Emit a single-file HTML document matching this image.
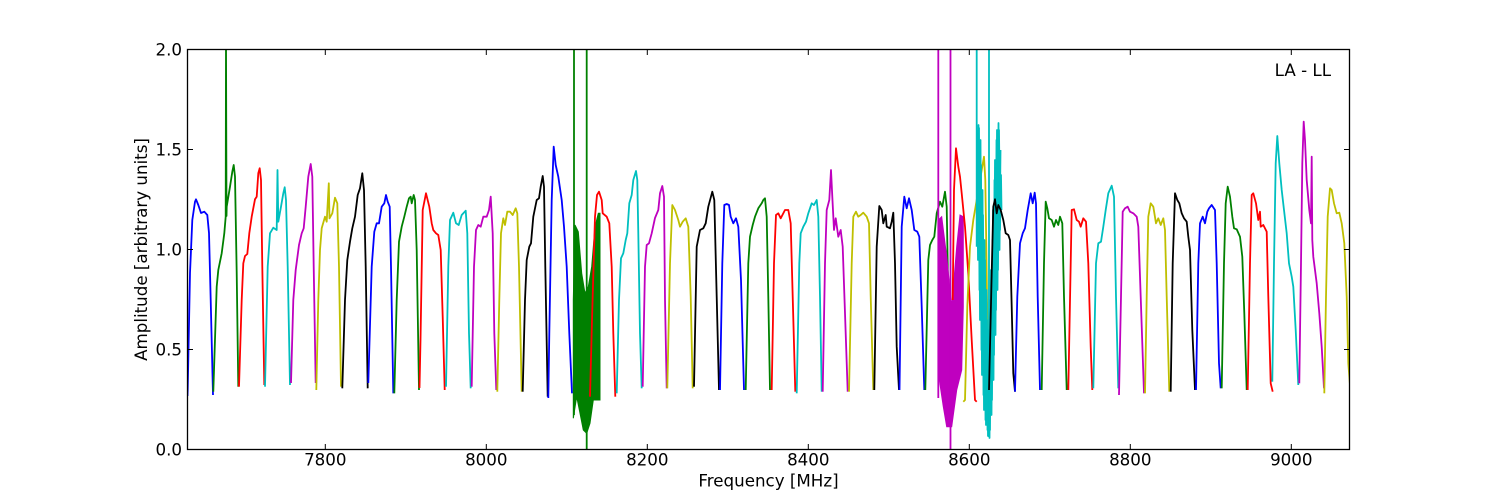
<!DOCTYPE html>
<html><head><meta charset="utf-8"><style>
html,body{margin:0;padding:0;background:#fff;}
svg{display:block;}
text{font-family:"DejaVu Sans","Liberation Sans",sans-serif;font-size:16.7px;fill:#000;}
.l{fill:none;stroke-width:1.8;stroke-linejoin:round;stroke-linecap:butt;}
.b{stroke:#0000ff}.g{stroke:#008000}.r{stroke:#ff0000}.c{stroke:#00bfbf}.m{stroke:#bf00bf}.y{stroke:#bfbf00}.k{stroke:#000000}
</style></head><body>
<svg width="1500" height="500" viewBox="0 0 1500 500" xmlns="http://www.w3.org/2000/svg">
<defs><clipPath id="ax"><rect x="187.5" y="49.5" width="1162" height="400"/></clipPath></defs>
<rect width="1500" height="500" fill="#fff"/>
<g clip-path="url(#ax)">
<polyline class="l b" points="187.5,396 187.7,390 190,273 192.3,220 195,201.7 196,199.3 198.3,205 201,213 204.3,211.7 207.3,215 209,233 210.7,300 213,395"/>
<polyline class="l g" points="213.3,391.7 216.7,286.7 218.3,270 221.7,253.3 224.3,233.3 225.7,216.7 226,40 226.5,216 226.7,206.7 230,186.7 232.3,171.7 233.7,165 235,176.7 236.7,273 238.3,386.7"/>
<polyline class="l r" points="239,386.7 241.7,300 243.3,263.3 245,256 247.3,254 249.3,233.3 251.7,216.7 255,199.3 256.7,196.7 258.3,173.3 259.7,168.3 261,180 262.3,266.7 264.3,385"/>
<polyline class="l c" points="265,386.7 267.7,266.7 270,233.3 273.3,227.7 276.7,230 277.5,170 278.3,221.7 281,206.7 283.3,193.3 284.7,187.3 286,200 287.7,266.7 290,385"/>
<polyline class="l m" points="291,383 293.3,300 295.7,270 299,245 301.7,233.3 303.7,228.3 305.7,206.7 308.3,176.7 310.7,164 312.3,176.7 313.7,266.7 315.7,383"/>
<polyline class="l y" points="316.3,390 318.3,300 320,250 321.7,228.3 325,216.7 326.7,221.7 328.8,183.3 329.5,218.3 332.3,213.3 335,197.7 337.3,203.3 339,266.7 341,386.7"/>
<polyline class="l k" points="342.3,388.3 345,300 347.3,260 350,241.7 352.3,228.3 355,216.7 357.7,195 360,188.3 362.3,173.3 364,190 365.7,266.7 367.7,388.3"/>
<polyline class="l b" points="368.3,383 371.7,266.7 374.3,231.7 376.7,223.3 379,223.3 381.7,206.7 384.3,203.3 386,195 387.7,201.7 389.7,206.7 391,266.7 393.3,393.3"/>
<polyline class="l g" points="394.3,393.3 396.7,300 399,241.7 401.7,226.7 404.3,216.7 406.7,206.7 409,198.3 410.7,196.7 411.7,203.3 413.7,195 415,200 416.7,250 419,390"/>
<polyline class="l r" points="419.5,388 420.5,340 422.7,210 426,193.3 429.3,206.7 431.7,223.3 433.3,230 436,233.3 438.3,235 440.7,250 442.7,316.7 444.7,390"/>
<polyline class="l c" points="446,386.7 448.3,266.7 450,220 453.3,212.7 456,223.3 458.7,225 461.7,215 465.7,210.7 467.3,233.3 469,333.3 470.7,388.3"/>
<polyline class="l m" points="471.7,386.7 474,266.7 476,230 478.3,225 480.7,226.7 483.3,216.7 486.7,216.7 489,210 490.7,196.7 492.7,233.3 494.3,333.3 496.3,390"/>
<polyline class="l y" points="497.3,391.7 499.3,300 501,233.3 503.3,218.3 505,225 507.3,211.7 510,211.7 512.7,215 515.7,208.3 517.3,213.3 519,266.7 521.7,391.7"/>
<polyline class="l k" points="522.7,391.7 525,300 526.7,260 529.3,246.7 531,243.3 533.3,216.7 536.7,200 539,198.3 540.7,186.7 542.7,176 544,186.7 545.3,266.7 547.7,396.7"/>
<polyline class="l b" points="548.3,398 549.3,333.3 551.7,200 553.7,146.7 555.7,165 558.3,176.7 561.7,200 564,226.7 566.7,266.7 569.3,333.3 572,393.3"/>
<!-- noisy green -->
<polygon fill="#008000" stroke="#008000" stroke-width="1" points="573.3,300 575,225 578.3,231.7 581.7,273.3 585,293.3 588.3,286.7 591.7,266.7 595,226.7 598.3,213.3 600,213.3 600,400 596.7,400 593.3,400 590,423.3 586.7,433.3 583.3,430 580,413.3 576.7,396.7 573.3,418.3"/>
<line x1="574" y1="40" x2="574" y2="415" stroke="#008000" stroke-width="1.8"/>
<line x1="586.7" y1="40" x2="586.7" y2="452" stroke="#008000" stroke-width="1.8"/>
<polyline class="l r" points="590,396.7 592,320 595,216.7 597,195 599,191.7 601.7,200 602.7,213.3 606.7,216.7 609.3,223.3 611.7,266.7 613.3,333.3 615.3,396.7"/>
<polyline class="l c" points="616.7,393.3 619,300 621,258.3 623.3,253.3 625.7,240 627.3,233.3 629.3,203.3 631.7,195 633.3,180 636,171 637.3,180 638.3,233.3 640,333.3 641.7,388.3"/>
<polyline class="l m" points="642.7,386.7 645,266.7 646.7,245 649,243.3 651.7,233.3 655,218 658.3,210 660,193.3 662.3,186 664,196.7 665,300 666.7,388.3"/>
<polyline class="l y" points="667.3,388.3 670,263.3 672.3,205 675,210 678.3,220 680,226.7 682.7,221.7 685.7,218.3 688.3,226.7 690.7,296.7 692.7,388.3"/>
<polyline class="l k" points="694,386.7 696.7,246.7 700,230 703.3,228.3 705.7,223.3 708.3,206.7 712.3,191.7 714.3,200 716.7,296.7 719,390"/>
<polyline class="l b" points="720,390 722.3,263.3 724.3,205 726.7,204 729,205 730.7,216.7 733.3,223.3 736,218.3 738.3,226.7 741,280 744,390"/>
<polyline class="l g" points="745.7,390 748.3,263.3 750,236.7 752.7,225 755,216.7 758.3,208.3 761.7,203.3 763.3,200 765,198.3 766.7,216.7 768.3,296.7 770,390"/>
<polyline class="l r" points="771.7,390 774,263.3 776,215 778.3,213.3 780.7,218.3 783.3,213.3 785,210 788.3,210 790.7,223.3 792.7,296.7 795.3,391.7"/>
<polyline class="l c" points="796.7,393.3 799.3,263.3 800.7,233.3 803.3,226.7 806,221.7 808.3,213.3 811.7,203.3 814,205 816.7,200 818.3,216.7 820,296.7 821.7,391.7"/>
<polyline class="l m" points="822.7,391.7 825,263.3 826.7,210 829.3,200 831,170 832.3,196.7 834,230 835.7,218.3 838.3,236.7 840.7,230 842.7,246.7 845,313.3 847.7,391.7"/>
<polyline class="l y" points="849,391.7 851.7,263.3 853.3,216.7 856,211.7 858.3,216.7 860.7,215 863.3,212.7 866.7,216.7 869,223.3 870.7,296.7 873.3,390"/>
<polyline class="l k" points="874.3,390 876.7,246.7 879.3,206 881.7,210 883.3,223.3 885.7,215 886.7,226.7 890,228.3 891.7,221.7 893.3,212.7 895,263.3 896.7,346.7 899,390"/>
<polyline class="l b" points="899.5,390 901.7,226.7 904.3,196.7 906.7,208.3 909,198.3 911.7,210 914.3,230 917.3,231.7 919.3,236.7 921.7,306.7 924.3,390"/>
<polyline class="l g" points="925.3,390 928.3,260 930,245 932.3,240 934.3,236.7 936.7,213.3 940,201.7 942.3,206.7 945,191.7 946.7,206.7 948.3,300 950,390"/>
<!-- noisy magenta -->
<polygon fill="#bf00bf" stroke="#bf00bf" stroke-width="1" points="938.3,220 941.7,216.7 946.7,256.7 951.7,306.7 956.7,246.7 960,215 963.3,216.7 963.3,306.7 961.7,370 956.7,390 951.7,426.7 946.7,426.7 943.3,406.7 938.3,373"/>
<line x1="938.3" y1="40" x2="938.3" y2="398" stroke="#bf00bf" stroke-width="1.8"/>
<line x1="950.5" y1="40" x2="950.5" y2="452" stroke="#bf00bf" stroke-width="1.8"/>
<polyline class="l r" points="952.7,300 954,190 956,148.3 958.3,166.7 960,176.7 961.7,193.3 965,226.7 968.3,273.3 971.7,340 975,400 976.7,401.7"/>
<polyline class="l y" points="963.3,401.7 965,400 967.3,306.7 970,246.7 973.3,220 976.7,200 980,180 984,156.7 985.3,180 986.7,273.3 988.3,398"/>
<!-- noisy cyan -->
<polyline class="l c" stroke-width="1.3" points="977,130 978,260 979,128 980,320 981,165 982,375 983,215 984,410 985,260 986,425 987,320 988,436 989,330 990,430 991,270 992,400 993,210 994,355 995,160 996,310 997,130 998,270 999,130 1000,230 1001,175 1001.5,210"/>
<polyline class="l c" stroke-width="1.3" points="977.5,245 978.5,125 979.5,290 980.5,140 981.5,350 982.5,190 983.5,395 984.5,240 985.5,420 986.5,290 987.5,430 988.5,340 989.5,438 990.5,300 991.5,415 992.5,240 993.5,380 994.5,180 995.5,335 996.5,140 997.5,290 998.5,123 999.5,250 1000.5,150"/>
<line x1="976.7" y1="40" x2="976.7" y2="246.7" stroke="#00bfbf" stroke-width="1.8"/>
<line x1="989" y1="40" x2="989" y2="437" stroke="#00bfbf" stroke-width="1.8"/>
<polyline class="l k" points="989,390 991.7,273.3 993.3,206.7 995,199.3 996.7,213.3 998.3,205 1000.7,210 1003.3,220 1005.7,233.3 1008.3,235 1010,240 1011.7,306.7 1013.3,373.3 1015,391.7"/>
<polyline class="l b" points="1015,391.7 1017.3,296.7 1020,243.3 1022.7,233.3 1025,228.3 1027.7,210 1030.7,193.3 1032.7,203.3 1034.7,192.7 1036,203.3 1037.7,296.7 1040,390"/>
<polyline class="l g" points="1041.7,390 1044,263.3 1045.7,201.7 1047.3,208.3 1049,218.3 1051.7,220 1054,226.7 1056,220 1058.3,225 1060,216.7 1062.3,223.3 1064,296.7 1066.7,390"/>
<polyline class="l r" points="1068.3,390 1070.7,263.3 1071.7,210 1074,209.3 1076.7,220 1079,221.7 1080.7,226.7 1083.3,218.3 1086,221.7 1088.3,263.3 1090.7,346.7 1092.3,390"/>
<polyline class="l c" points="1093.3,388.3 1096,263.3 1098.3,243.3 1101,241.7 1103.3,226.7 1105.7,210 1108.3,193.3 1111.7,185.7 1114,196.7 1116,296.7 1118.3,388.3"/>
<polyline class="l m" points="1119,395 1121,296.7 1122.7,211.7 1125,208.3 1127.7,206.7 1130,211.7 1133.3,213.3 1136.7,216.7 1138.3,226.7 1140.7,296.7 1144,393.3"/>
<polyline class="l y" points="1145,393.3 1146.7,296.7 1148.3,216.7 1150.7,203.3 1153.3,206.7 1156,223.3 1158.3,218.3 1160.7,225 1163.3,218.3 1165,230 1166.7,296.7 1169.3,391.7"/>
<polyline class="l k" points="1170.7,391.7 1172.7,263.3 1175,193.3 1177.3,200 1179.3,203.3 1181.7,213.3 1184,218.3 1186.7,221.7 1188.3,236.7 1190,250 1192.3,330 1195,390"/>
<polyline class="l b" points="1196,390 1198.3,263.3 1200,223.3 1202.7,216.7 1205,223.3 1207.3,211.7 1209,208.3 1211.7,205 1215,210 1216.7,263.3 1219,363.3 1220.7,388.3"/>
<polyline class="l g" points="1221.7,388.3 1224,263.3 1225.7,203.3 1227.7,186.7 1230,196.7 1232.3,216.7 1234,228.3 1236.7,229.3 1240,236.7 1242.3,256.7 1244.3,313.3 1246.7,390"/>
<polyline class="l r" points="1247.7,390 1250,263.3 1251.7,195 1253.3,193.3 1256,203.3 1258.3,220 1260,211.7 1260.7,226.7 1263.3,225 1266.7,231.7 1268.3,296.7 1270.7,383.3 1272.7,391.7"/>
<polyline class="l c" points="1272.3,381.7 1274,263.3 1275.7,163.3 1277.3,136 1279.3,163.3 1281.7,190 1284,210 1286.7,233.3 1289,263.3 1291.7,276.7 1293.3,286.7 1295.7,330 1298.3,385"/>
<polyline class="l m" points="1299.3,383.3 1301,263.3 1302.3,163.3 1303.7,121.7 1305,140 1306.7,180 1309.3,210 1311,223.3 1311.7,156.7 1312.3,240 1313.3,256.7 1316.7,283.3 1319.3,313.3 1321.7,346.7 1324,388.3"/>
<polyline class="l y" points="1324.3,393.3 1326,296.7 1327.7,216.7 1330,188.3 1331.7,190 1334,203.3 1336.7,213.3 1339.3,212.7 1341.7,223.3 1344.3,243.3 1346.7,296.7 1348.3,363.3 1350,385"/>
</g>
<!-- axes frame -->
<rect x="187.5" y="49.5" width="1162" height="400" fill="none" stroke="#000" stroke-width="1.3"/>
<!-- ticks -->
<g stroke="#000" stroke-width="1">
<line x1="325.3" y1="449.5" x2="325.3" y2="444"/><line x1="325.3" y1="49.5" x2="325.3" y2="55"/>
<line x1="486.3" y1="449.5" x2="486.3" y2="444"/><line x1="486.3" y1="49.5" x2="486.3" y2="55"/>
<line x1="647.3" y1="449.5" x2="647.3" y2="444"/><line x1="647.3" y1="49.5" x2="647.3" y2="55"/>
<line x1="808.3" y1="449.5" x2="808.3" y2="444"/><line x1="808.3" y1="49.5" x2="808.3" y2="55"/>
<line x1="969.3" y1="449.5" x2="969.3" y2="444"/><line x1="969.3" y1="49.5" x2="969.3" y2="55"/>
<line x1="1130.3" y1="449.5" x2="1130.3" y2="444"/><line x1="1130.3" y1="49.5" x2="1130.3" y2="55"/>
<line x1="1291.3" y1="449.5" x2="1291.3" y2="444"/><line x1="1291.3" y1="49.5" x2="1291.3" y2="55"/>
<line x1="187.5" y1="349.5" x2="193" y2="349.5"/><line x1="1349.5" y1="349.5" x2="1344" y2="349.5"/>
<line x1="187.5" y1="249.5" x2="193" y2="249.5"/><line x1="1349.5" y1="249.5" x2="1344" y2="249.5"/>
<line x1="187.5" y1="149.5" x2="193" y2="149.5"/><line x1="1349.5" y1="149.5" x2="1344" y2="149.5"/>
</g>
<!-- tick labels -->
<g text-anchor="middle">
<text x="325.3" y="465.5">7800</text>
<text x="486.3" y="465.5">8000</text>
<text x="647.3" y="465.5">8200</text>
<text x="808.3" y="465.5">8400</text>
<text x="969.3" y="465.5">8600</text>
<text x="1130.3" y="465.5">8800</text>
<text x="1291.3" y="465.5">9000</text>
</g>
<g text-anchor="end">
<text x="182" y="455.5">0.0</text>
<text x="182" y="355.5">0.5</text>
<text x="182" y="255.5">1.0</text>
<text x="182" y="155.5">1.5</text>
<text x="182" y="55.5">2.0</text>
</g>
<text x="768.5" y="486.5" text-anchor="middle">Frequency [MHz]</text>
<text transform="translate(147,249.5) rotate(-90)" text-anchor="middle">Amplitude [arbitrary units]</text>
<text x="1331" y="76" text-anchor="end">LA - LL</text>
</svg>
</body></html>
